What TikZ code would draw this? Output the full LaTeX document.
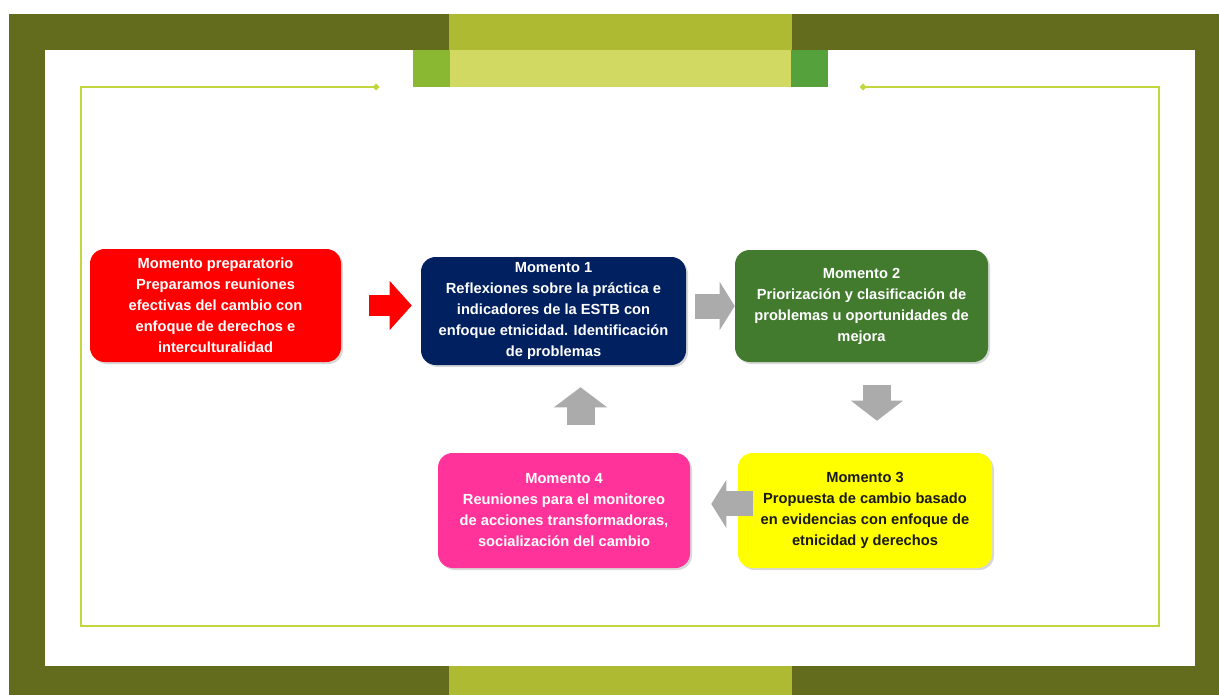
\documentclass[tikz,border=0pt]{standalone}
\usepackage{fontspec}
\setmainfont{Liberation Sans}
\usetikzlibrary{shadows,arrows.meta}
\definecolor{olivo}{HTML}{636B1C}
\definecolor{banda}{HTML}{AEBB32}
\definecolor{verdeA}{HTML}{8AB833}
\definecolor{verdeB}{HTML}{D1D962}
\definecolor{verdeC}{HTML}{55A13B}
\definecolor{linea}{HTML}{C2D63E}
\definecolor{rojo}{HTML}{FF0000}
\definecolor{azul}{HTML}{002060}
\definecolor{verde}{HTML}{427A2E}
\definecolor{amarillo}{HTML}{FFFF00}
\definecolor{rosa}{HTML}{FF3399}
\definecolor{gris}{HTML}{ABABAB}

\begin{document}
\begin{tikzpicture}[x=0.75pt,y=-0.75pt,
etapa/.style={rounded corners=11pt, inner sep=0pt, align=center, text=white,
  font=\bfseries\fontsize{11}{15.75}\selectfont,
  drop shadow={shadow xshift=1.5pt, shadow yshift=-1.5pt, opacity=.3}},
flecha/.style={draw=gris, line width=18.75pt,
  -{Triangle[length=11.25pt, width=36pt, line width=0pt]}}]
\useasboundingbox (0,0) rectangle (1219,695);
\fill[white] (0,0) rectangle (1219,695);
\fill[olivo] (9,14) rectangle (1219,695);
\fill[white] (45,50) rectangle (1195,666);
\fill[banda] (449,14) rectangle (792,50);
\fill[banda] (449,666) rectangle (792,695);
\fill[verdeA] (413,50) rectangle (450,87);
\fill[verdeB] (450,50) rectangle (791,87);
\fill[verdeC] (791,50) rectangle (828,87);
\draw[linea, line width=1.1pt] (376,87) -- (81,87) -- (81,626) -- (1159,626) -- (1159,87) -- (863,87);
\fill[linea] (376,83.5) -- (379.5,87) -- (376,90.5) -- (372.5,87) -- cycle;
\fill[linea] (863,83.5) -- (866.5,87) -- (863,90.5) -- (859.5,87) -- cycle;

\node[etapa, fill=rojo, minimum width=188.25pt, minimum height=84.75pt] (prep) at (215.5,305.5)
  {Momento preparatorio\\Preparamos reuniones\\efectivas del cambio con\\enfoque de derechos e\\interculturalidad};
\node[etapa, fill=azul, minimum width=198.75pt, minimum height=81pt] (m1) at (553.5,311)
  {Momento 1\\Reflexiones sobre la práctica e\\indicadores de la ESTB con\\enfoque etnicidad. Identificación\\de problemas};
\node[etapa, fill=verde, minimum width=189.75pt, minimum height=84pt] (m2) at (861.5,306)
  {Momento 2\\Priorización y clasificación de\\problemas u oportunidades de\\mejora};
\node[etapa, fill=amarillo, text=black!90, minimum width=190.5pt, minimum height=86.25pt] (m3) at (865,510.5)
  {Momento 3\\Propuesta de cambio basado\\en evidencias con enfoque de\\etnicidad y derechos};
\node[etapa, fill=rosa, minimum width=189pt, minimum height=86.25pt] (m4) at (564,510.5)
  {Momento 4\\Reuniones para el monitoreo\\de acciones transformadoras,\\socialización del cambio};

\draw[flecha, draw=rojo, line width=15.75pt, -{Triangle[length=16.5pt, width=36.75pt, line width=0pt]},
  shorten <=21pt, shorten >=6.75pt] (prep.east) -- (prep.east -| m1.west);
\draw[flecha, shorten <=6.75pt] (m1.east |- m2.west) -- (m2.west);
\draw[flecha, line width=21pt, -{Triangle[length=15pt, width=39pt, line width=0pt]},
  shorten <=17.25pt, shorten >=24pt] ([xshift=11.6pt]m2.south) -- ([xshift=11.6pt]m2.south |- m3.north);
\draw[flecha, shorten <=-11.25pt, shorten >=15.75pt] ([yshift=4.9pt]m3.west) -- ([yshift=4.9pt]m3.west -| m4.east);
\draw[flecha, line width=21pt, -{Triangle[length=15pt, width=39.75pt, line width=0pt]},
  shorten <=21pt, shorten >=16.5pt] ([xshift=12.4pt]m4.north) -- ([xshift=12.4pt]m4.north |- m1.south);
\end{tikzpicture}
\end{document}
